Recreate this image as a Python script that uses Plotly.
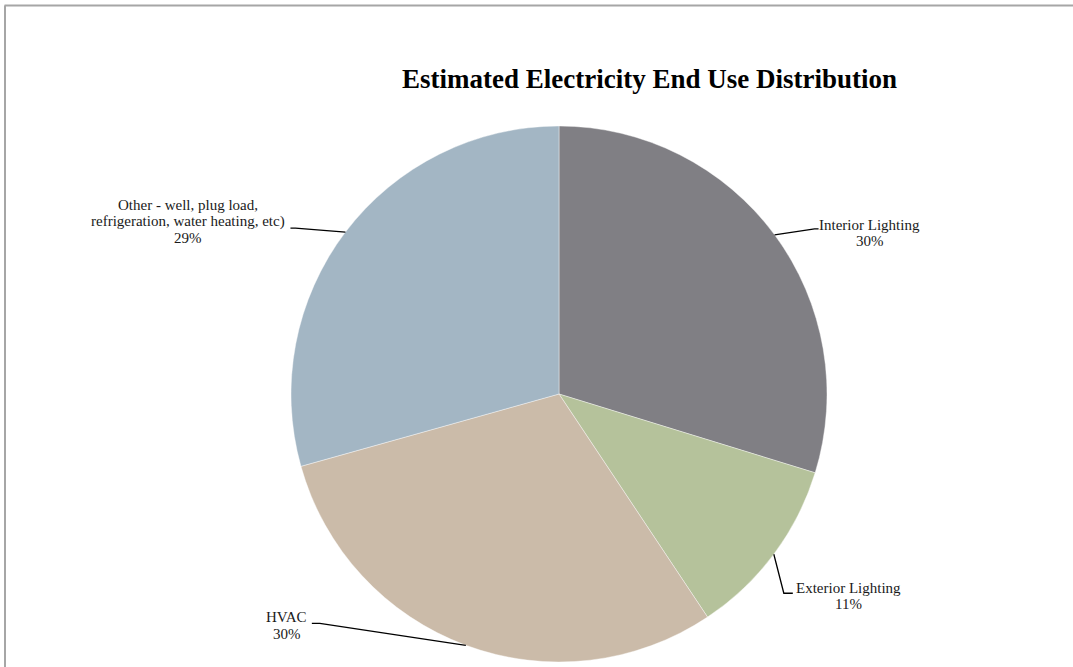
import math
import plotly.graph_objects as go

categories = ["Interior Lighting", "Exterior Lighting", "HVAC",
              "Other - well, plug load,<br>refrigeration, water heating, etc)"]
values = [29.75, 10.9, 30.0, 29.35]
colors = ["#807f84", "#b5c29b", "#cbbba9", "#a3b6c4"]

W, H = 1073, 667
CX, CY, R = 559, 394, 268
LINE_H = 16.5

def px(x, y):
    return x / W, 1 - y / H

fig = go.Figure(go.Pie(
    labels=categories, values=values, sort=False, direction="clockwise",
    rotation=0, marker=dict(colors=colors, line=dict(color="#ffffff", width=0.4)),
    textinfo="none", hoverinfo="label+percent", showlegend=False,
    domain=dict(x=[(CX - R) / W, (CX + R) / W], y=[(H - CY - R) / H, (H - CY + R) / H]),
))

# leader-line elbow offsets and label offsets (relative to slice edge point)
elbow = [(40, -6), (10, 39), (-146, -22), (-50, -4)]
tail = [4, 9, -8, -5]
label_off = [(95, -2), (75, 42), (-179, -20), (-157.5, -11)]

total = sum(values)
cum = 0
shapes = []
annotations = []
for i, v in enumerate(values):
    mid = (cum + v / 2) / total * 2 * math.pi
    cum += v
    ex, ey = CX + R * math.sin(mid), CY - R * math.cos(mid)
    bx, by = ex + elbow[i][0], ey + elbow[i][1]
    tx = bx + tail[i]
    pts = [px(ex, ey), px(bx, by), px(tx, by)]
    path = "M {} {} L {} {} L {} {}".format(pts[0][0], pts[0][1], pts[1][0], pts[1][1], pts[2][0], pts[2][1])
    shapes.append(dict(type="path", xref="paper", yref="paper", path=path,
                       line=dict(color="#000000", width=1.3)))
    pct = round(v / total * 100)
    lines = categories[i].split("<br>") + [f"{pct}%"]
    cx_l = ex + label_off[i][0]
    cy_l = ey + label_off[i][1]
    n = len(lines)
    for k, t in enumerate(lines):
        yy = cy_l + (k - (n - 1) / 2) * LINE_H
        lx, ly = px(cx_l, yy)
        annotations.append(dict(xref="paper", yref="paper", x=lx, y=ly, showarrow=False,
                                text=t, xanchor="center", yanchor="middle",
                                font=dict(family="Liberation Serif", size=15, color="#1a1a1a")))

# frame
shapes.append(dict(type="line", xref="paper", yref="paper", x0=px(4.5, 5.5)[0], y0=px(4.5, 5.5)[1],
                   x1=1.0, y1=px(4.5, 5.5)[1], line=dict(color="#a6a6a6", width=2)))
shapes.append(dict(type="line", xref="paper", yref="paper", x0=px(5, 5.5)[0], y0=px(4.5, 5.5)[1],
                   x1=px(5, 5.5)[0], y1=0, line=dict(color="#a6a6a6", width=2)))

fig.update_layout(
    width=W, height=H, margin=dict(l=0, r=0, t=0, b=0),
    paper_bgcolor="#ffffff", plot_bgcolor="#ffffff",
    title=dict(text="<b>Estimated Electricity End Use Distribution</b>",
               x=649.5 / W, xanchor="center", y=1 - 79 / H, yanchor="middle",
               font=dict(family="Liberation Serif", size=27, color="#000000")),
    shapes=shapes, annotations=annotations,
)

fig.write_html("out.html")
